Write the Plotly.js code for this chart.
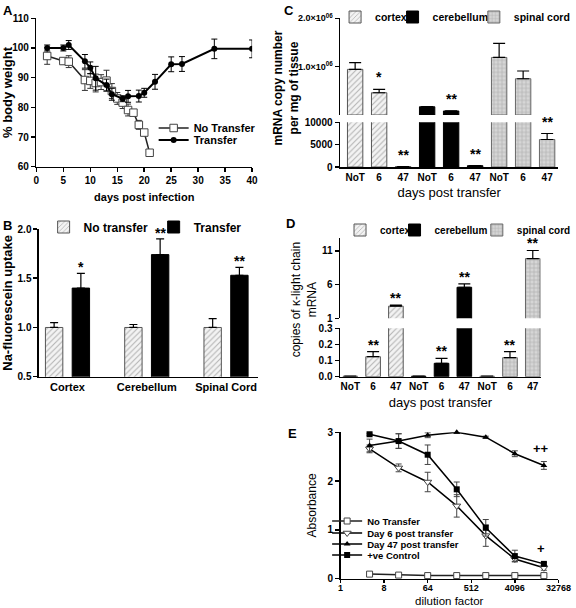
<!DOCTYPE html>
<html>
<head>
<meta charset="utf-8">
<script src="https://cdn.plot.ly/plotly-3.0.1.min.js"></script>
<style>html,body{margin:0;padding:0;background:#fff}#plot{width:576px;height:608px}</style>
</head>
<body>
<div id="plot"></div>
<script>
// ---------------- DATA ----------------
// Panel A: body weight
const dayNoTransfer = [2,5,6,9,10,11,12,13,14,15,16,17,18,19,20,21];
const weightNoTransfer = [97.3,95.6,95.4,89.2,88.9,88.2,88.5,89.0,85.5,83.0,81.6,79.1,78.2,74.1,71.5,64.7];
const errNoTransfer = [2.8,1.0,2.0,3.5,2.5,3.0,2.5,3.5,2.5,2.0,2.0,2.0,1.0,1.5,1.0,0];
const dayTransfer = [2,5,6,9,10,11,13,14,16,17,19,20,22,25,27,33,40];
const weightTransfer = [100,100,101,95.5,93.3,89.8,87.5,84.4,82.9,83.7,83.8,84.9,88.6,94.5,94.6,99.7,99.7];
const errTransfer = [1,1,1.5,2.3,2,4,2,2,1,2,2,1.5,2.5,2.5,2.5,3.3,3];

// Panel B: Na-fluorescein uptake
const tissuesB = ['Cortex','Cerebellum','Spinal Cord'];
const uptakeNoTransfer = [1.0,1.0,1.0];
const uptakeNoTransferErr = [0.05,0.03,0.09];
const uptakeTransfer = [1.40,1.74,1.53];
const uptakeTransferErr = [0.15,0.16,0.08];
const starsB = ['*','**','**'];

// Panels C & D shared categories
const tissuesCD = ['cortex','cerebellum','spinal cord'];
const daysCD = ['NoT','6','47'];

// Panel C: mRNA copy number per mg tissue
const copiesC = {
  cortex: [944000, 460000, 100],
  cerebellum: [170000, 83000, 300],
  'spinal cord': [1190000, 750000, 6150]
};
const copiesCErr = {
  cortex: [140000, 70000, 0],
  cerebellum: [5000, 3000, 30],
  'spinal cord': [290000, 160000, 1340]
};
const starsC = {cortex:['','*','**'], cerebellum:['','**','**'], 'spinal cord':['','','**']};
const cLowerTicks = [0,5000,10000];
const cUpperTickVals = [1000000,2000000];
const cUpperTickText = ['1.0×10<sup>06</sup>','2.0×10<sup>06</sup>'];

// Panel D: copies of kappa-light chain mRNA
const kappaD = {
  cortex: [0.003, 0.124, 2.8],
  cerebellum: [0.003, 0.083, 5.6],
  'spinal cord': [0.003, 0.118, 9.85]
};
const kappaDErr = {
  cortex: [0, 0.031, 0.15],
  cerebellum: [0, 0.031, 0.5],
  'spinal cord': [0, 0.037, 1.2]
};
const starsD = {cortex:['','**','**'], cerebellum:['','**','**'], 'spinal cord':['','**','**']};
const dLowerTicks = [0,0.1,0.2,0.3];
const dLowerTickText = ['0.0','0.1','0.2','0.3'];
const dUpperTicks = [1,6,11];

// Panel E: ELISA absorbance vs dilution
const dilution = [4,16,64,256,1024,4096,16384];
const dilutionTicks = [1,8,64,512,4096,32768];
const absNoTransfer = [0.09,0.07,0.06,0.06,0.06,0.06,0.06];
const absDay6 = [2.66,2.27,1.98,1.49,0.88,0.40,0.22];
const absDay6Err = [0.08,0.08,0.2,0.23,0.22,0.05,0.05];
const absDay47 = [2.73,2.82,2.94,3.0,2.9,2.56,2.32];
const absDay47Err = [0.13,0.15,0.05,0.02,0.02,0.06,0.08];
const absControl = [2.96,2.82,2.54,1.83,1.04,0.46,0.30];
const absControlErr = [0.02,0.15,0.2,0.15,0.17,0.12,0.03];

// ---------------- HELPERS ----------------
const W = 576, H = 608;
const F = 'Liberation Sans, Arial, sans-serif';
const xd = (a,b) => [a/W, b/W];
const yd = (top,bot) => [1-bot/H, 1-top/H];
const bold = (s) => ({family:F, size:s, color:'#000', weight:'bold'});
const norm = (s) => ({family:F, size:s, color:'#000'});
const axBase = {showline:true, linecolor:'#000', linewidth:1.5, ticks:'outside', ticklen:4,
  tickwidth:1.5, tickcolor:'#000', showgrid:false, zeroline:false, automargin:false,
  fixedrange:true, tickfont:bold(10)};
const ax = (o) => Object.assign({}, axBase, o);
const lg = (xpx, ypx, fs) => ({x:xpx/W, y:1-ypx/H, xanchor:'left', yanchor:'middle',
  bgcolor:'rgba(0,0,0,0)', borderwidth:0, font:bold(fs), orientation:'v', tracegroupgap:0, itemwidth:30});

const patCortex = {shape:'/', bgcolor:'#f3f3f3', fgcolor:'#b2b2b2', size:4, solidity:0.25};
const patSpinal = {shape:'+', bgcolor:'#d6d6d6', fgcolor:'#adadad', size:4, solidity:0.3};
const tissueStyle = {
  cortex: {color:'#f3f3f3', pattern:patCortex, line:{color:'#555', width:1}},
  cerebellum: {color:'#000', line:{color:'#000', width:1}},
  'spinal cord': {color:'#d6d6d6', pattern:patSpinal, line:{color:'#666', width:1}}
};

const traces = [];
const annotations = [];

// ---------------- PANEL A ----------------
traces.push({type:'scatter', mode:'lines+markers', name:'No Transfer', x:dayNoTransfer, y:weightNoTransfer,
  xaxis:'x', yaxis:'y', legend:'legend',
  error_y:{type:'data', array:errNoTransfer, color:'#333', thickness:1, width:3},
  line:{color:'#222', width:1.5},
  marker:{symbol:'square', size:7.5, color:'#fff', line:{color:'#444', width:1}}});
traces.push({type:'scatter', mode:'lines+markers', name:'Transfer', x:dayTransfer, y:weightTransfer,
  xaxis:'x', yaxis:'y', legend:'legend2',
  error_y:{type:'data', array:errTransfer, color:'#000', thickness:1, width:3},
  line:{color:'#000', width:2},
  marker:{symbol:'circle', size:6, color:'#000'}});

// ---------------- PANEL B ----------------
const zeros3 = tissuesB.map(() => 0);
traces.push({type:'bar', name:'No transfer', x:tissuesB, y:uptakeNoTransfer, xaxis:'x2', yaxis:'y2', legend:'legend3',
  marker:{color:'#f3f3f3', pattern:patCortex, line:{color:'#555', width:1}},
  error_y:{type:'data', symmetric:false, array:uptakeNoTransferErr, arrayminus:zeros3, color:'#000', thickness:1.2, width:4}});
traces.push({type:'bar', name:'Transfer', x:tissuesB, y:uptakeTransfer, xaxis:'x2', yaxis:'y2', legend:'legend4',
  marker:{color:'#000', line:{color:'#000', width:1}},
  error_y:{type:'data', symmetric:false, array:uptakeTransferErr, arrayminus:zeros3, color:'#000', thickness:1.2, width:4}});
tissuesB.forEach((t,i) => {
  annotations.push({xref:'x2', yref:'y2', x:t, y:uptakeTransfer[i]+uptakeTransferErr[i], xshift:13.5,
    text:starsB[i], showarrow:false, yanchor:'bottom', yshift:-4, font:bold(14)});
});

// ---------------- PANELS C & D (broken axes) ----------------
function brokenBars(data, errs, stars, lowMax, xa, yLow, yUp, legendIds, starShift) {
  tissuesCD.forEach((t, k) => {
    const xs = daysCD.map((d, j) => k*daysCD.length + j);
    const v = data[t], e = errs[t];
    const zero = v.map(() => 0);
    traces.push({type:'bar', name:t, x:xs, y:v, xaxis:xa, yaxis:yLow, legend:legendIds[k],
      width:0.64, offset:-0.32, marker:tissueStyle[t],
      error_y:{type:'data', symmetric:false, array:v.map((a,i) => a+e[i] <= lowMax ? e[i] : 0),
        arrayminus:zero, color:'#000', thickness:1.2, width:6}});
    traces.push({type:'bar', name:t, x:xs, y:v.map(a => a > lowMax ? a : null), xaxis:xa, yaxis:yUp,
      showlegend:false, width:0.64, offset:-0.32, marker:tissueStyle[t],
      error_y:{type:'data', symmetric:false, array:v.map((a,i) => a > lowMax ? e[i] : 0),
        arrayminus:zero, color:'#000', thickness:1.2, width:6}});
    stars[t].forEach((s, i) => {
      if (!s) return;
      const top = v[i] + e[i];
      annotations.push({xref:xa, yref: top > lowMax ? yUp : yLow, x:xs[i], y:top, text:s,
        showarrow:false, yanchor:'bottom', yshift:starShift, font:bold(14)});
    });
  });
}
brokenBars(copiesC, copiesCErr, starsC, 10000, 'x3', 'y3', 'y4', ['legend5','legend6','legend7'], 2);
brokenBars(kappaD, kappaDErr, starsD, 0.3, 'x4', 'y5', 'y6', ['legend8','legend9','legend10'], -3);

const catTickVals = [];
const catTickText = [];
tissuesCD.forEach((t,k) => daysCD.forEach((d,j) => { catTickVals.push(k*daysCD.length+j); catTickText.push(d); }));

// ---------------- PANEL E ----------------
const eLine = {color:'#000', width:1.5};
traces.push({type:'scatter', mode:'lines+markers', name:'No Transfer', x:dilution, y:absNoTransfer,
  xaxis:'x5', yaxis:'y7', legend:'legend11', line:{color:'#222', width:1.5},
  marker:{symbol:'square', size:6, color:'#fff', line:{color:'#444', width:1}}, cliponaxis:false});
traces.push({type:'scatter', mode:'lines+markers', name:'Day 6 post transfer', x:dilution, y:absDay6,
  xaxis:'x5', yaxis:'y7', legend:'legend12', line:eLine,
  error_y:{type:'data', array:absDay6Err, color:'#444', thickness:1, width:3},
  marker:{symbol:'triangle-down', size:7, color:'#fff', line:{color:'#444', width:1}}, cliponaxis:false});
traces.push({type:'scatter', mode:'lines+markers', name:'Day 47 post transfer', x:dilution, y:absDay47,
  xaxis:'x5', yaxis:'y7', legend:'legend13', line:eLine,
  error_y:{type:'data', array:absDay47Err, color:'#444', thickness:1, width:3},
  marker:{symbol:'triangle-up', size:6, color:'#000'}, cliponaxis:false});
traces.push({type:'scatter', mode:'lines+markers', name:'+ve Control', x:dilution, y:absControl,
  xaxis:'x5', yaxis:'y7', legend:'legend14', line:eLine,
  error_y:{type:'data', array:absControlErr, color:'#444', thickness:1, width:3},
  marker:{symbol:'square', size:6, color:'#000'}, cliponaxis:false});
const lastE = dilution.length - 1;
annotations.push({xref:'x5', yref:'y7', x:Math.log10(dilution[lastE]), y:absDay47[lastE]+absDay47Err[lastE],
  text:'++', showarrow:false, yanchor:'bottom', yshift:4, xshift:-3, font:bold(13)});
annotations.push({xref:'x5', yref:'y7', x:Math.log10(dilution[lastE]), y:absControl[lastE]+absControlErr[lastE],
  text:'+', showarrow:false, yanchor:'bottom', yshift:4, xshift:-3, font:bold(13)});
annotations.push({xref:'paper', yref:'paper', x:453/W, y:0, text:'dilution factor',
  showarrow:false, xanchor:'center', yanchor:'bottom', borderpad:0, font:norm(11.5)});

// ---------------- PANEL LETTERS & FREE TITLES ----------------
[['A',1,1],['B',1,216],['C',284,1],['D',286,214],['E',288,424]].forEach(([t,xp,yp]) => {
  annotations.push({xref:'paper', yref:'paper', x:xp/W, y:1-yp/H, xanchor:'left', yanchor:'top',
    text:t, showarrow:false, font:bold(13)});
});
annotations.push({xref:'paper', yref:'paper', x:289/W, y:1-88/H, text:'mRNA copy number<br>per mg of tissue',
  textangle:-90, showarrow:false, font:bold(12), xanchor:'center', yanchor:'middle'});
annotations.push({xref:'paper', yref:'paper', x:307/W, y:1-300/H, text:'copies of κ-light chain<br>mRNA',
  textangle:-90, showarrow:false, font:norm(12), xanchor:'center', yanchor:'middle'});

// ---------------- LAYOUT ----------------
const layout = {
  width:W, height:H, margin:{l:0,r:0,t:0,b:0}, paper_bgcolor:'#fff', plot_bgcolor:'rgba(0,0,0,0)',
  font:{family:F, color:'#000'}, barmode:'group', bargap:0.325, bargroupgap:0.35,
  xaxis: ax({domain:xd(36.7,254.3), anchor:'y', range:[0,40], dtick:5, tick0:0,
    title:{text:'days post infection', font:bold(11), standoff:8}}),
  yaxis: ax({domain:yd(18.3,166.7), anchor:'x', range:[60,110], dtick:10, tick0:60,
    title:{text:'% body weight', font:bold(13), standoff:4}}),
  xaxis2: ax({domain:xd(39.3,260), anchor:'y2', type:'category', range:[-0.36,2.4], ticks:'', tickfont:bold(11)}),
  yaxis2: ax({domain:yd(229,376.7), anchor:'x2', range:[0.5,2.0], dtick:0.5, tick0:0.5, tickformat:'.1f',
    title:{text:'Na-fluorescein uptake', font:bold(13), standoff:4}}),
  xaxis3: ax({domain:xd(343,563.3), anchor:'y3', range:[-0.63,8.47], tickvals:catTickVals, ticktext:catTickText,
    ticks:'', title:{text:'days post transfer', font:norm(13), standoff:6}}),
  yaxis3: ax({domain:yd(122.3,167), anchor:'x3', range:[0,10000], tickvals:cLowerTicks, tickformat:'d'}),
  yaxis4: ax({domain:yd(18.3,115), anchor:'x3', range:[0,2000000], tickvals:cUpperTickVals, ticktext:cUpperTickText,
    tickfont:bold(9)}),
  xaxis4: ax({domain:xd(343,545.5), anchor:'y5', range:[-0.45,8.35], tickvals:catTickVals, ticktext:catTickText,
    ticks:'', title:{text:'days post transfer', font:norm(13), standoff:6}}),
  yaxis5: ax({domain:yd(328.3,376.7), anchor:'x4', range:[0,0.3], tickvals:dLowerTicks, ticktext:dLowerTickText}),
  yaxis6: ax({domain:yd(238,318.3), anchor:'x4', range:[1,12.9], tickvals:dUpperTicks}),
  xaxis5: ax({domain:xd(343.5,563.3), anchor:'y7', type:'log', range:[0, Math.log10(32768)],
    tickvals:dilutionTicks, ticktext:dilutionTicks.map(String), tickfont:bold(9), ticklen:3, ticklabelstandoff:-3}),
  yaxis7: ax({domain:yd(432.3,578.5), anchor:'x5', range:[0,3], dtick:1, tick0:0,
    title:{text:'Absorbance', font:norm(12), standoff:8}}),
  legend: lg(155,128,11), legend2: lg(155,140,11),
  legend3: lg(44,227,12), legend4: lg(155,227,12),
  legend5: lg(338,17,10.5), legend6: lg(396,17,10.5), legend7: lg(478,17,10.5),
  legend8: lg(343,230,10), legend9: lg(398,230,10), legend10: lg(481,230,10),
  legend11: lg(330,521,9.5), legend12: lg(330,533,9.5), legend13: lg(330,544,9.5), legend14: lg(330,555,9.5),
  annotations: annotations,
  showlegend: true
};

Plotly.newPlot('plot', traces, layout, {displayModeBar:false, staticPlot:true});
</script>
</body>
</html>
